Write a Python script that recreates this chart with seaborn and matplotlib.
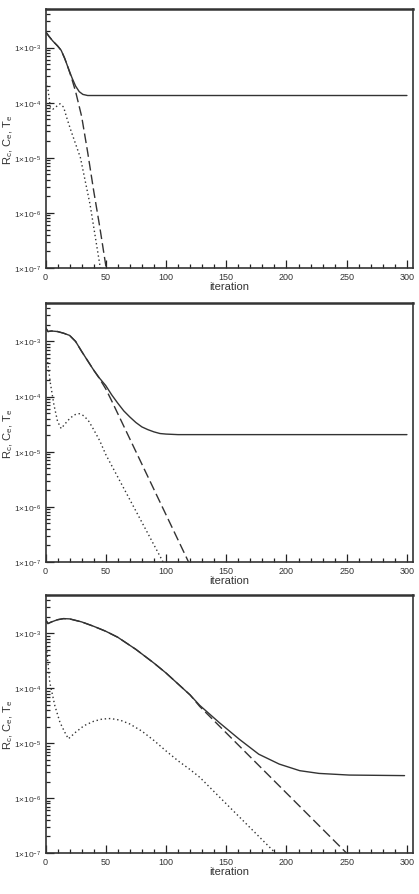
import numpy as np
import pandas as pd
import matplotlib
matplotlib.use('Agg')
import matplotlib.pyplot as plt
import matplotlib.ticker as mticker
import seaborn as sns

# log10 of the residuals, three runs (top, middle, bottom)
it_rc_1 = [0, 3, 6, 10, 13, 16, 19, 22, 25, 28, 31, 35, 40, 300]
rc_1 = [-2.71, -2.80, -2.88, -2.97, -3.05, -3.20, -3.38, -3.55, -3.70, -3.80, -3.85, -3.87, -3.87, -3.87]
it_ce_1 = [0, 3, 6, 10, 13, 16, 19, 22, 25, 30, 35, 40, 45, 50, 52]
ce_1 = [-2.71, -2.80, -2.88, -2.97, -3.05, -3.20, -3.38, -3.58, -3.80, -4.25, -4.90, -5.60, -6.25, -6.95, -7.3]
it_te_1 = [0, 2, 4, 6, 9, 12, 15, 18, 21, 29, 37, 47]
te_1 = [-3.62, -3.75, -4.08, -4.12, -4.07, -4.02, -4.08, -4.30, -4.50, -5.00, -5.85, -7.2]

it_rc_2 = [0, 2, 5, 10, 15, 20, 25, 30, 35, 40, 45, 50, 55, 60, 65, 70, 75, 80, 85, 90, 95, 100, 110, 300]
rc_2 = [-2.745, -2.82, -2.81, -2.82, -2.85, -2.89, -3.00, -3.18, -3.35, -3.52, -3.67, -3.80, -3.97, -4.12,
        -4.26, -4.37, -4.47, -4.55, -4.60, -4.64, -4.67, -4.68, -4.69, -4.69]
it_ce_2 = [0, 2, 5, 10, 15, 20, 25, 30, 35, 40, 45, 50, 55, 122]
ce_2 = [-2.745, -2.82, -2.81, -2.82, -2.85, -2.89, -3.00, -3.18, -3.35, -3.52, -3.68, -3.86, -4.08, -7.15]
it_te_2 = [0, 2, 4, 7, 10, 13, 16, 20, 24, 28, 32, 36, 40, 45, 50, 100]
te_2 = [-3.15, -3.40, -3.75, -4.15, -4.45, -4.58, -4.50, -4.40, -4.33, -4.31, -4.35, -4.45, -4.60, -4.80, -5.05, -7.1]

it_rc_3 = [0, 2, 5, 10, 15, 20, 30, 40, 50, 60, 75, 90, 100, 110, 120, 128, 144, 161, 177, 194, 211, 227, 252, 298]
rc_3 = [-2.745, -2.82, -2.79, -2.75, -2.73, -2.735, -2.79, -2.87, -2.96, -3.07, -3.29, -3.54, -3.72, -3.92,
        -4.12, -4.31, -4.62, -4.93, -5.20, -5.38, -5.50, -5.55, -5.58, -5.59]
it_ce_3 = [0, 2, 5, 10, 15, 20, 30, 40, 50, 60, 75, 90, 100, 110, 120, 128, 253]
ce_3 = [-2.745, -2.82, -2.79, -2.75, -2.73, -2.735, -2.79, -2.87, -2.96, -3.07, -3.29, -3.54, -3.72, -3.92,
        -4.12, -4.33, -7.07]
it_te_3 = [0, 1, 3.6, 7.8, 12, 16, 19, 25, 32, 40, 47, 54, 62, 70, 80, 90, 100, 110, 120, 128, 194]
te_3 = [-3.10, -3.29, -3.90, -4.32, -4.62, -4.80, -4.92, -4.80, -4.68, -4.60, -4.56, -4.55, -4.58, -4.65,
        -4.78, -4.95, -5.14, -5.32, -5.48, -5.62, -7.07]

runs = [
    ((it_rc_1, rc_1), (it_ce_1, ce_1), (it_te_1, te_1)),
    ((it_rc_2, rc_2), (it_ce_2, ce_2), (it_te_2, te_2)),
    ((it_rc_3, rc_3), (it_ce_3, ce_3), (it_te_3, te_3)),
]

sns.set_style('ticks')
plt.rcParams['font.family'] = ['Liberation Sans', 'DejaVu Sans']
plt.rcParams['mathtext.fontset'] = 'custom'
plt.rcParams['mathtext.rm'] = 'Liberation Sans'
plt.rcParams['mathtext.it'] = 'Liberation Sans:italic'

fig = plt.figure(figsize=(4.19, 8.95), dpi=100)
boxes = [[0.1086, 0.6994, 0.877, 0.2894],
         [0.1086, 0.3710, 0.877, 0.2894],
         [0.1086, 0.0458, 0.877, 0.2882]]

styles = [dict(linestyle='-'),
          dict(dashes=(7, 3)),
          dict(dashes=(1, 2))]
line_col = '#333333'


def sci_label(v, pos):
    e = int(round(np.log10(v)))
    return r'$1{\times}10^{%d}$' % e


for box, run in zip(boxes, runs):
    ax = fig.add_axes(box)
    for (xs, ys), st in zip(run, styles):
        sns.lineplot(x=np.array(xs, dtype=float), y=10.0 ** np.array(ys), ax=ax,
                     color=line_col, linewidth=1.0, sort=False, **st)
    ax.set_yscale('log')
    ax.set_xlim(0, 305)
    ax.set_ylim(1e-7, 5e-3)
    ax.xaxis.set_major_locator(mticker.MultipleLocator(50))
    ax.xaxis.set_minor_locator(mticker.MultipleLocator(10))
    ax.yaxis.set_major_locator(mticker.LogLocator(base=10, numticks=20))
    ax.yaxis.set_minor_locator(mticker.LogLocator(base=10, subs=np.arange(2, 10), numticks=20))
    ax.yaxis.set_major_formatter(mticker.FuncFormatter(sci_label))
    ax.yaxis.set_minor_formatter(mticker.NullFormatter())
    ax.tick_params(which='both', direction='in', color='#222222', width=0.9, labelcolor='#333333')
    ax.tick_params(which='major', length=6, labelsize=6.5, pad=3)
    ax.tick_params(axis='y', which='major', labelsize=6)
    ax.tick_params(which='minor', length=3)
    for side, sp in ax.spines.items():
        sp.set_visible(True)
        sp.set_color('#333333')
        sp.set_linewidth(1.2)
    ax.spines['top'].set_linewidth(1.8)
    ax.set_xlabel('iteration', fontsize=8, labelpad=0, color='#333333')
    ax.set_ylabel(r'R$_\mathrm{c}$, C$_\mathrm{e}$, T$_\mathrm{e}$', fontsize=8, color='#333333')
    ax.yaxis.set_label_coords(-0.082, 0.5)

fig.savefig('out.png', dpi=100)
